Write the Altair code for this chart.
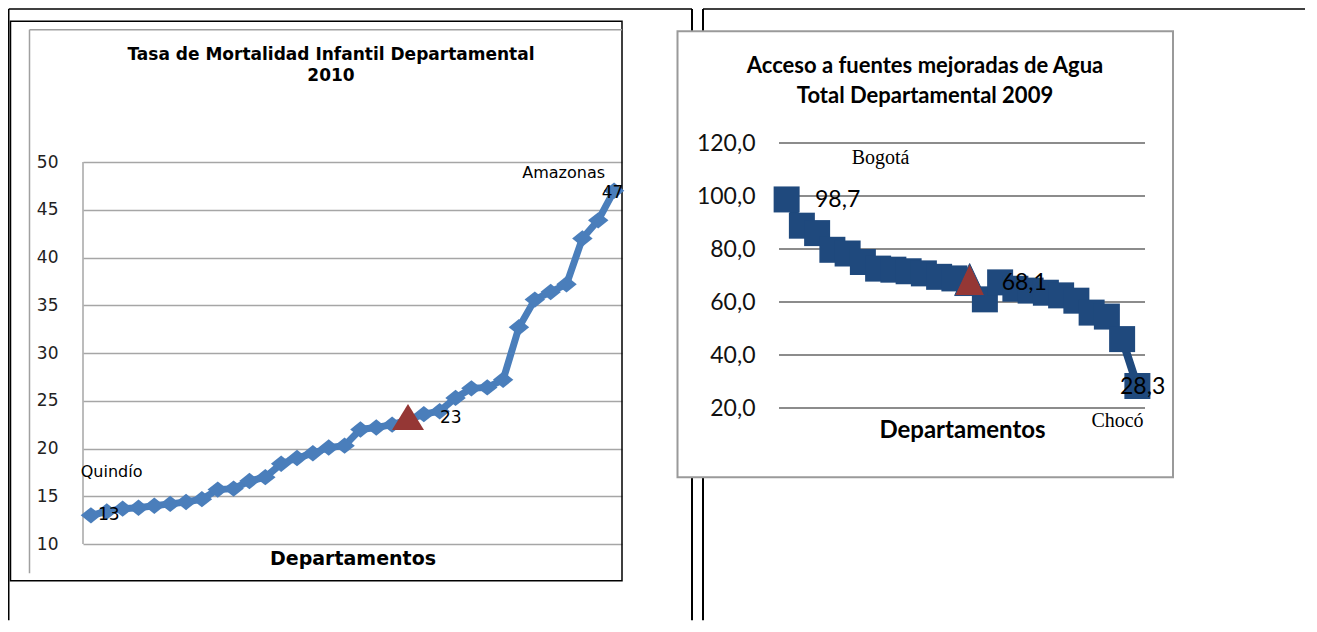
import altair as alt
import pandas as pd

# ---------------- data ----------------
mort_rank = list(range(1, 35))
mort_values = [13.0, 13.4, 13.7, 13.8, 14.0, 14.2, 14.4, 14.7, 15.7, 15.8,
               16.6, 17.0, 18.4, 19.0, 19.5, 20.1, 20.3, 22.0, 22.2, 22.5,
               23.0, 23.6, 23.9, 25.3, 26.3, 26.4, 27.2, 32.7, 35.6, 36.4,
               37.2, 42.0, 43.9, 47.0]
mort_national_rank = 21
mort_names = {1: "Quindío", 34: "Amazonas"}
mort_ticks = [10, 15, 20, 25, 30, 35, 40, 45, 50]
mort_title = ["Tasa de Mortalidad Infantil Departamental", "2010"]

agua_rank = list(range(1, 25))
agua_values = [98.7, 88.8, 86.0, 79.7, 78.3, 75.1, 72.6, 72.2, 71.6, 70.8,
               69.5, 68.9, 68.1, 61.0, 67.4, 65.0, 64.3, 63.5, 62.5, 60.5,
               56.0, 54.5, 46.0, 28.3]
agua_national_rank = 13
agua_names = {1: "Bogotá", 24: "Chocó"}
agua_ticks = [20, 40, 60, 80, 100, 120]
agua_title = ["Acceso a fuentes mejoradas de Agua", "Total Departamental 2009"]

x_title = "Departamentos"

mort_df = pd.DataFrame({
    "rank": mort_rank,
    "valor": mort_values,
    "tipo": ["Nacional" if r == mort_national_rank else "Departamento" for r in mort_rank],
    "etiqueta": [f"{v:.0f}" for v in mort_values],
    "nombre": [mort_names.get(r, "") for r in mort_rank],
})
agua_df = pd.DataFrame({
    "rank": agua_rank,
    "valor": agua_values,
    "tipo": ["Nacional" if r == agua_national_rank else "Departamento" for r in agua_rank],
    "etiqueta": [f"{v:.1f}".replace(".", ",") for v in agua_values],
    "nombre": [agua_names.get(r, "") for r in agua_rank],
})
agua_grid_df = pd.DataFrame({"valor": agua_ticks})

# ---------------- styles ----------------
BLUE = "#4A7EBB"
DARKBLUE = "#1F497D"
RED = "#953735"
DIAMOND = "M-1,0L0,-0.8L1,0L0,0.8Z"
TRI_L = "M0,-1L1,0.64L-1,0.64Z"
TRI_R = "M0,-1.13L1,1L-1,1Z"
SANS_L = "DejaVu Sans"
SANS_R = "Lato"
SERIF = "Liberation Serif"

# plot-area origins on the page (decoration only)
LX0, RX0, Y0 = 83.0, 779.0, 142.7


def hrule(x1, x2, y, color, w):
    return alt.Chart().mark_rule(color=color, strokeWidth=w).encode(
        x=alt.value(x1), x2=alt.value(x2), y=alt.value(y))


def vrule(x, y1, y2, color, w):
    return alt.Chart().mark_rule(color=color, strokeWidth=w).encode(
        x=alt.value(x), y=alt.value(y1), y2=alt.value(y2))


def box(x1, x2, y1, y2, stroke, w, fill=None):
    if fill:
        m = alt.Chart().mark_rect(fill=fill, stroke=stroke, strokeWidth=w)
    else:
        m = alt.Chart().mark_rect(filled=False, stroke=stroke, strokeWidth=w)
    return m.encode(x=alt.value(x1), x2=alt.value(x2), y=alt.value(y1), y2=alt.value(y2))


def title_line(text, x, y, font, size):
    return alt.Chart().mark_text(text=text, font=font, fontSize=size, fontWeight="bold",
                                 align="center", baseline="alphabetic", color="black").encode(
        x=alt.value(x), y=alt.value(y))


L = lambda px: px - LX0
R = lambda px: px - RX0
T = lambda py: py - Y0

# ---------------- left chart ----------------
xL = alt.X("rank:O", scale=alt.Scale(type="point", padding=0.5),
           axis=alt.Axis(labels=False, ticks=False, domain=False, grid=False,
                         title=x_title, titleFont=SANS_L, titleFontSize=19,
                         titleFontWeight="bold", titleColor="black",
                         titleBaseline="alphabetic", titleY=20.5))
yL = alt.Y("valor:Q", scale=alt.Scale(domain=[10, 52], nice=False, zero=False),
           axis=alt.Axis(values=mort_ticks, grid=True, gridColor="#a6a6a6", gridWidth=1.5,
                         domain=False, ticks=False, tickSize=0, labelPadding=25,
                         labelFont=SANS_L, labelFontSize=17, labelColor="#222222",
                         title=None))

# ---------------- right chart ----------------
xR = alt.X("rank:O", scale=alt.Scale(type="point", padding=0.5),
           axis=alt.Axis(labels=False, ticks=False, domain=False, grid=False,
                         title=x_title, titleFont=SANS_R, titleFontSize=24,
                         titleFontWeight="bold", titleColor="black",
                         titleBaseline="alphabetic", titleY=29.6, zindex=1))
yR = alt.Y("valor:Q", scale=alt.Scale(domain=[20, 120], nice=False, zero=False),
           axis=alt.Axis(values=agua_ticks, grid=False, zindex=1,
                         domain=False, ticks=False, tickSize=0, labelPadding=24,
                         labelFont=SANS_R, labelFontSize=23, labelColor="#111111",
                         labelExpr="replace(format(datum.value, '.1f'), '.', ',')",
                         title=None))

mort_base = alt.Chart(mort_df)
agua_base = alt.Chart(agua_df)


def lab(which, rank, field, align, dx, dy, font, size, clip=False):
    base, xe, ye = (mort_base, xL, yL) if which == "L" else (agua_base, xR, yR)
    return base.transform_filter(alt.datum.rank == rank).mark_text(
        align=align, baseline="middle", dx=dx, dy=dy, font=font, fontSize=size,
        color="black", clip=clip).encode(x=xe, y=ye, text=f"{field}:N")


left_deco = [
    vrule(L(8.75), T(8.75), T(620), "black", 1.5),
    hrule(L(8.75), L(692), T(8.75), "black", 1.5),
    vrule(L(692), T(8.75), T(620), "black", 2),
    box(L(10.5), L(622), T(21), T(580.5), "black", 1.5),
    vrule(L(29.5), T(29.5), T(573), "#a0a0a0", 1.5),
    hrule(L(29.5), L(622), T(29.5), "#a0a0a0", 1.5),
    title_line(mort_title[0], L(331), T(59.7), SANS_L, 17),
    title_line(mort_title[1], L(331), T(80.6), SANS_L, 17),
]

mort_axis_line = alt.Chart().mark_rule(color="#a6a6a6", strokeWidth=1.5).encode(
    x=alt.value(0), y=alt.datum(10), y2=alt.datum(50))
mort_line = mort_base.mark_line(color=BLUE, strokeWidth=7).encode(x=xL, y=yL)
mort_pts = mort_base.transform_filter(alt.datum.tipo == "Departamento").mark_point(
    shape=DIAMOND, size=420, filled=True, color=BLUE, opacity=1).encode(x=xL, y=yL)
mort_nat = mort_base.transform_filter(alt.datum.tipo == "Nacional").mark_point(
    shape=TRI_L, size=1024, filled=True, color=RED, opacity=1).encode(x=xL, y=yL)

left_layers = left_deco + [
    mort_axis_line, mort_line, mort_pts, mort_nat,
    lab("L", 1, "nombre", "left", -10.2, -43.6, SANS_L, 16),
    lab("L", 34, "nombre", "right", -9, -17.4, SANS_L, 16),
    lab("L", 1, "etiqueta", "left", 7, 0, SANS_L, 17),
    lab("L", mort_national_rank, "etiqueta", "left", 32, -1.5, SANS_L, 17),
    lab("L", 34, "etiqueta", "left", -12.4, 2.6, SANS_L, 17, clip=True),
]
left = alt.layer(*left_layers).properties(width=539, height=401)

right_deco = [
    vrule(R(703), T(8.75), T(620), "black", 2),
    hrule(R(703), R(1305), T(8.75), "black", 1.5),
    box(R(677.5), R(1173), T(31), T(477), "#9a9a9a", 2, fill="white"),
    title_line(agua_title[0], R(925), T(73), SANS_R, 22),
    title_line(agua_title[1], R(925), T(102.7), SANS_R, 22),
]

agua_grid = alt.Chart(agua_grid_df).mark_rule(color="#8c8c8c", strokeWidth=2).encode(y=yR)
agua_line = agua_base.mark_line(color=DARKBLUE, strokeWidth=8).encode(x=xR, y=yR)
agua_pts = agua_base.transform_filter(alt.datum.tipo == "Departamento").mark_point(
    shape="square", size=676, filled=True, color=DARKBLUE, opacity=1).encode(x=xR, y=yR)
agua_nat = agua_base.transform_filter(alt.datum.tipo == "Nacional").mark_point(
    shape=TRI_R, size=900, filled=True, fill=RED, stroke=DARKBLUE, strokeWidth=1,
    opacity=1).encode(x=xR, y=yR)

right_layers = right_deco + [
    agua_grid, agua_line, agua_pts, agua_nat,
    lab("R", 1, "nombre", "left", 65, -41, SERIF, 20),
    lab("R", 24, "nombre", "left", -46, 35, SERIF, 20),
    lab("R", 1, "etiqueta", "left", 28.4, 1, SANS_R, 23),
    lab("R", agua_national_rank, "etiqueta", "left", 32, 2.3, SANS_R, 23),
    lab("R", 24, "etiqueta", "left", -17.4, 1, SANS_R, 23),
]
right = alt.layer(*right_layers).properties(width=366, height=265)

chart = alt.hconcat(left, right, spacing=157, bounds="flush").properties(
    padding=0, background="white"
).configure_view(stroke=None)

chart.save("out.html", embed_options={"renderer": "svg", "actions": False})
